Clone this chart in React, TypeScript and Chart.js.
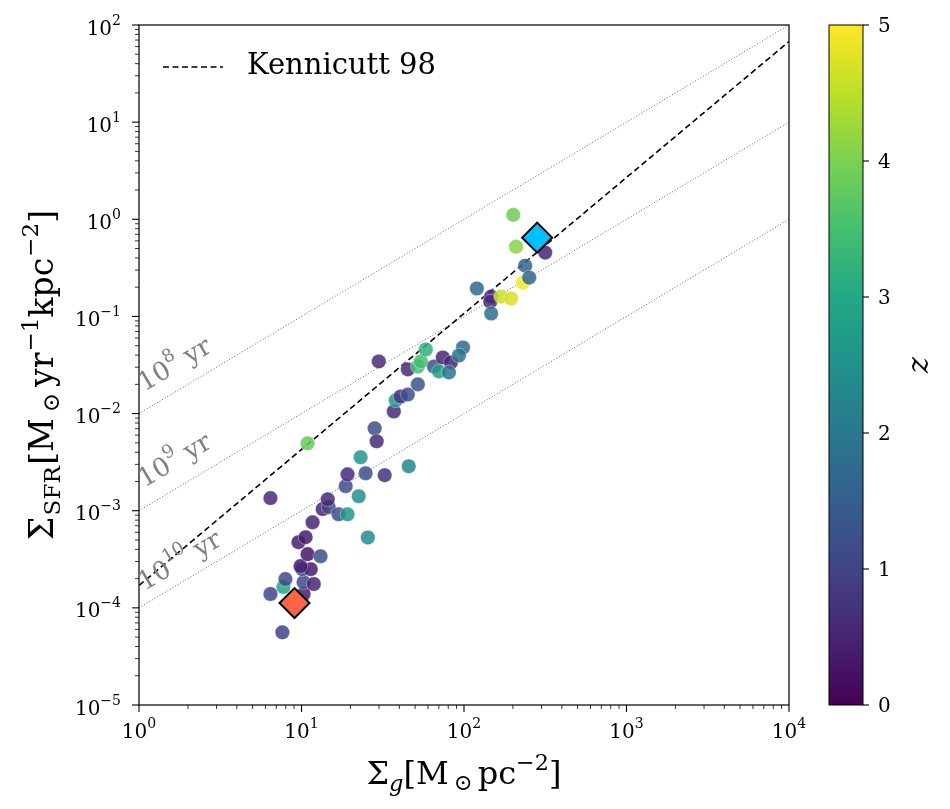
import React, { useEffect, useRef } from 'react';
import { Chart, registerables } from 'chart.js';
Chart.register(...registerables);

// ---------------- data ----------------
const gasSurfaceDensity = [
  6.44, 7.63, 6.44, 7.74, 7.96, 10.3, 10.3, 11.9, 10.1, 11.4,
  9.86, 10.9, 13.1, 9.58, 10.6, 11.7, 13.5, 14.7, 14.5, 16.9,
  19.2, 18.7, 22.5, 25.6, 19.2, 24.8, 32.5, 45.7, 23.1, 28.2,
  29.0, 10.9, 29.9, 37.0, 38.0, 40.8, 45.1, 52.0, 45.1, 52.0,
  54.3, 58.2, 65.3, 74.1, 83.1, 70.1, 80.8, 98.6, 93.1, 120,
  147, 145, 147, 169, 195, 231, 238, 252, 316, 209, 201,
];
const sfrSurfaceDensity = [
  1.35e-3, 5.6e-5, 1.39e-4, 1.64e-4, 1.98e-4, 1.39e-4, 1.84e-4, 1.76e-4, 2.5e-4, 2.5e-4,
  2.69e-4, 3.57e-4, 3.4e-4, 4.74e-4, 5.34e-4, 7.6e-4, 1.04e-3, 1.09e-3, 1.31e-3, 9.2e-4,
  9.2e-4, 1.79e-3, 1.41e-3, 5.3e-4, 2.37e-3, 2.43e-3, 2.32e-3, 2.87e-3, 3.55e-3, 7.05e-3,
  5.18e-3, 4.94e-3, 3.44e-2, 1.05e-2, 1.37e-2, 1.5e-2, 1.57e-2, 2.0e-2, 2.85e-2, 3.05e-2,
  3.44e-2, 4.57e-2, 3.05e-2, 3.78e-2, 3.36e-2, 2.72e-2, 2.65e-2, 4.79e-2, 3.96e-2, 0.194,
  0.160, 0.142, 0.107, 0.160, 0.153, 0.223, 0.333, 0.251, 0.454, 0.523, 1.11,
];
const redshift = [
  0.6, 1.0, 1.0, 3.0, 1.1, 0.4, 1.1, 0.5, 1.1, 0.4,
  0.4, 0.3, 1.2, 0.4, 0.4, 0.5, 0.5, 1.1, 0.6, 1.2,
  2.6, 1.2, 2.5, 2.4, 0.6, 1.2, 0.7, 2.3, 2.6, 1.2,
  0.6, 3.8, 0.6, 0.6, 2.7, 0.7, 1.2, 1.3, 0.6, 3.5,
  3.5, 3.2, 1.3, 0.5, 0.5, 2.8, 2.0, 1.7, 1.9, 1.7,
  0.5, 0.6, 1.8, 4.6, 4.7, 4.95, 1.6, 1.7, 0.5, 4.1, 3.9,
];

const diamondGas = [9.06, 282];
const diamondSfr = [1.12e-4, 0.647];
const diamondColors = ['#ff6347', '#00bfff'];

const depletionTimes = [1e8, 1e9, 1e10];
const depletionExps = ['8', '9', '10'];
const kennicuttCoef = 1.7e-4;
const kennicuttIndex = 1.4;
const kennicuttRange = [1, 1e4];

const xTickExps = [0, 1, 2, 3, 4];
const yTickExps = [-5, -4, -3, -2, -1, 0, 1, 2];
const zTicks = [0, 1, 2, 3, 4, 5];
const zRange = [0, 5];

// ---------------- helpers ----------------
const FAMILY = '"DejaVu Serif", serif';
const VIR = ['#440154', '#482475', '#414487', '#355f8d', '#2a788e', '#21918c', '#22a884', '#44bf70', '#7ad151', '#bddf26', '#fde725'];
const hex = (h: string) => [parseInt(h.slice(1, 3), 16), parseInt(h.slice(3, 5), 16), parseInt(h.slice(5, 7), 16)];
function viridis(t: number, a = 1) {
  t = Math.max(0, Math.min(1, t));
  const p = t * (VIR.length - 1);
  const i = Math.min(VIR.length - 2, Math.floor(p));
  const f = p - i;
  const c0 = hex(VIR[i]), c1 = hex(VIR[i + 1]);
  const c = c0.map((v, k) => Math.round(v + (c1[k] - v) * f));
  return `rgba(${c[0]},${c[1]},${c[2]},${a})`;
}
const zColor = (z: number, a = 1) => viridis((z - zRange[0]) / (zRange[1] - zRange[0]), a);

type Seg = { t: string; s?: number; dy?: number; it?: boolean; gl?: number; gr?: number };
function richWidth(ctx: CanvasRenderingContext2D, segs: Seg[], base: number) {
  let w = 0;
  for (const sg of segs) {
    ctx.font = `${sg.it ? 'italic ' : ''}${base * (sg.s || 1)}px ${FAMILY}`;
    w += ctx.measureText(sg.t).width + ((sg.gl || 0) + (sg.gr || 0)) * base;
  }
  return w;
}
function drawRich(ctx: CanvasRenderingContext2D, segs: Seg[], x: number, y: number, base: number, align: 'left' | 'center' | 'right', color: string) {
  const total = richWidth(ctx, segs, base);
  let cx = align === 'center' ? x - total / 2 : align === 'right' ? x - total : x;
  ctx.fillStyle = color;
  ctx.textBaseline = 'alphabetic';
  ctx.textAlign = 'left';
  for (const sg of segs) {
    ctx.font = `${sg.it ? 'italic ' : ''}${base * (sg.s || 1)}px ${FAMILY}`;
    cx += (sg.gl || 0) * base;
    ctx.fillText(sg.t, cx, y + (sg.dy || 0) * base);
    cx += ctx.measureText(sg.t).width + (sg.gr || 0) * base;
  }
}
const supExp = (e: number): Seg[] => [{ t: '10' }, { t: e < 0 ? '\u2212' + Math.abs(e) : String(e), s: 0.7, dy: -0.5 }];

const TICK_FONT = 20;
const TITLE_FONT = 32;

const overlay = {
  id: 'overlay',
  afterDraw(chart: any) {
    const ctx: CanvasRenderingContext2D = chart.ctx;
    const a = chart.chartArea;
    const xs = chart.scales.x, ys = chart.scales.y;
    ctx.save();
    // frame
    ctx.strokeStyle = '#000';
    ctx.lineWidth = 1.2;
    ctx.strokeRect(a.left, a.top, a.right - a.left, a.bottom - a.top);

    // ticks
    const tick = (x1: number, y1: number, x2: number, y2: number, w: number) => {
      ctx.lineWidth = w;
      ctx.beginPath(); ctx.moveTo(x1, y1); ctx.lineTo(x2, y2); ctx.stroke();
    };
    for (let i = 0; i < xTickExps.length; i++) {
      const e = xTickExps[i];
      const px = xs.getPixelForValue(Math.pow(10, e));
      tick(px, a.bottom, px, a.bottom + 7, 1.1);
      if (i < xTickExps.length - 1) for (let m = 2; m <= 9; m++) {
        const mx = xs.getPixelForValue(m * Math.pow(10, e));
        tick(mx, a.bottom, mx, a.bottom + 4, 0.8);
      }
      drawRich(ctx, supExp(e), px, a.bottom + 33, TICK_FONT, 'center', '#000');
    }
    for (let i = 0; i < yTickExps.length; i++) {
      const e = yTickExps[i];
      const py = ys.getPixelForValue(Math.pow(10, e));
      tick(a.left, py, a.left - 7, py, 1.1);
      if (i < yTickExps.length - 1) for (let m = 2; m <= 9; m++) {
        const my = ys.getPixelForValue(m * Math.pow(10, e));
        tick(a.left, my, a.left - 4, my, 0.8);
      }
      drawRich(ctx, supExp(e), a.left - 18, py + 9.5, TICK_FONT, 'right', '#000');
    }

    // axis titles
    const xTitle: Seg[] = [
      { t: '\u03A3' }, { t: 'g', s: 0.7, dy: 0.22, it: true }, { t: '[M' },
      { t: '\u2299', s: 0.7, dy: 0.18, gl: 0.16, gr: 0.16 }, { t: 'pc' }, { t: '\u22122', s: 0.7, dy: -0.45 }, { t: ']' },
    ];
    drawRich(ctx, xTitle, (a.left + a.right) / 2, 784, TITLE_FONT, 'center', '#000');
    const yTitle: Seg[] = [
      { t: '\u03A3' }, { t: 'SFR', s: 0.7, dy: 0.2, gl: 0.04 }, { t: '[M', gl: 0.04 },
      { t: '\u2299', s: 0.7, dy: 0.18, gl: 0.18, gr: 0.18 }, { t: 'yr' }, { t: '\u22121', s: 0.7, dy: -0.45, gl: 0.03 },
      { t: 'kpc' }, { t: '\u22122', s: 0.7, dy: -0.45, gl: 0.03 }, { t: ']' },
    ];
    ctx.save();
    ctx.translate(53, (a.top + a.bottom) / 2 + 10);
    ctx.rotate(-Math.PI / 2);
    drawRich(ctx, yTitle, 0, 0, 33, 'center', '#000');
    ctx.restore();

    // depletion labels
    const p1x = xs.getPixelForValue(1), p1y = ys.getPixelForValue(1e-2);
    const p2x = xs.getPixelForValue(10), p2y = ys.getPixelForValue(1e-1);
    const ang = Math.atan2(p2y - p1y, p2x - p1x);
    const lblRatio = [1.55, 1.6, 1.38];
    depletionTimes.forEach((t, i) => {
      const gx = 1.08;
      const gy = (gx * 1e6) / t * lblRatio[i];
      ctx.save();
      ctx.translate(xs.getPixelForValue(gx), ys.getPixelForValue(gy));
      ctx.rotate(ang);
      drawRich(ctx, [{ t: '10' }, { t: depletionExps[i], s: 0.7, dy: -0.5 }, { t: ' yr' }], 0, 0, 26, 'left', 'rgba(128,128,128,1)');
      ctx.restore();
    });

    // legend
    ctx.strokeStyle = '#000';
    ctx.lineWidth = 1.6;
    ctx.setLineDash([6, 3.5]);
    ctx.beginPath(); ctx.moveTo(a.left + 24, 67); ctx.lineTo(a.left + 84, 67); ctx.stroke();
    ctx.setLineDash([]);
    drawRich(ctx, [{ t: 'Kennicutt 98' }], a.left + 108, 74, 29, 'left', '#000');

    // colorbar
    const cbL = 829, cbR = 863, cbT = a.top, cbB = a.bottom;
    const g = ctx.createLinearGradient(0, cbB, 0, cbT);
    VIR.forEach((c, i) => g.addColorStop(i / (VIR.length - 1), c));
    ctx.fillStyle = g;
    ctx.fillRect(cbL, cbT, cbR - cbL, cbB - cbT);
    ctx.strokeStyle = '#000';
    ctx.lineWidth = 1;
    ctx.strokeRect(cbL, cbT, cbR - cbL, cbB - cbT);
    zTicks.forEach((z) => {
      const py = cbB - ((z - zRange[0]) / (zRange[1] - zRange[0])) * (cbB - cbT);
      tick(cbR, py, cbR + 6, py, 1.1);
      drawRich(ctx, [{ t: String(z) }], cbR + 15, py + 7, TICK_FONT, 'left', '#000');
    });
    ctx.save();
    ctx.translate(928, (cbT + cbB) / 2);
    ctx.rotate(-Math.PI / 2);
    drawRich(ctx, [{ t: 'z', it: true }], 0, 0, 30, 'center', '#000');
    ctx.restore();

    ctx.restore();
  },
};

export default function App() {
  const ref = useRef<HTMLCanvasElement | null>(null);
  useEffect(() => {
    if (!ref.current) return;
    const depletionSets = depletionTimes.map((t) => ({
      data: kennicuttRange.map((x) => ({ x, y: (x * 1e6) / t })),
      showLine: true,
      pointRadius: 0,
      borderColor: 'rgba(20,20,20,0.95)',
      borderWidth: 0.7,
      borderDash: [1, 2],
      order: 4,
    }));
    const chart = new Chart(ref.current, {
      type: 'scatter',
      data: {
        datasets: [
          {
            data: diamondGas.map((x, i) => ({ x, y: diamondSfr[i] })),
            pointStyle: 'rectRot',
            pointRadius: 15,
            backgroundColor: diamondColors,
            borderColor: '#000',
            borderWidth: 2,
            order: 0,
          } as any,
          {
            data: gasSurfaceDensity.map((x, i) => ({ x, y: sfrSurfaceDensity[i] })),
            pointRadius: 7.3,
            backgroundColor: redshift.map((z) => zColor(z, 0.85)),
            borderColor: 'rgba(255,255,255,0.45)',
            borderWidth: 0.8,
            order: 1,
          },
          {
            data: kennicuttRange.map((x) => ({ x, y: kennicuttCoef * Math.pow(x, kennicuttIndex) })),
            showLine: true,
            pointRadius: 0,
            borderColor: '#000',
            borderWidth: 1.6,
            borderDash: [6, 3.5],
            order: 2,
          },
          ...depletionSets,
        ],
      },
      options: {
        responsive: false,
        animation: false,
        devicePixelRatio: 1,
        events: [],
        layout: { padding: { top: 25, right: 161, left: 0, bottom: 0 } },
        plugins: { legend: { display: false }, tooltip: { enabled: false } },
        scales: {
          x: {
            type: 'logarithmic', min: 1, max: 1e4,
            ticks: { display: false }, grid: { display: false }, border: { display: false },
            afterFit: (s: any) => { s.height = 104; },
          },
          y: {
            type: 'logarithmic', min: 1e-5, max: 1e2,
            ticks: { display: false }, grid: { display: false }, border: { display: false },
            afterFit: (s: any) => { s.width = 139; },
          },
        },
      } as any,
      plugins: [overlay],
    });
    return () => chart.destroy();
  }, []);
  return (
    <div style={{ position: 'absolute', left: 0, top: 0, width: 950, height: 809, background: '#fff' }}>
      <canvas ref={ref} width={950} height={809} style={{ width: 950, height: 809 }} />
    </div>
  );
}
